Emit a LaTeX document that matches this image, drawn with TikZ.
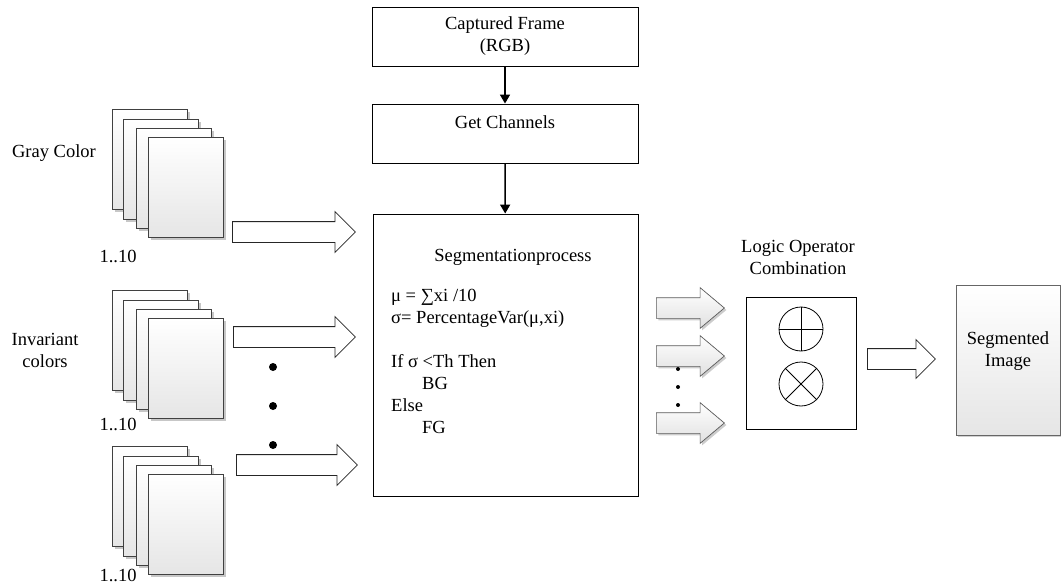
\documentclass[tikz,border=0pt]{standalone}
\usepackage{fontspec}
\setmainfont{Liberation Serif}
\usetikzlibrary{shapes.arrows,shadows,arrows.meta,positioning}
\newcommand{\pagestack}[2]{%
  \foreach \dx/\dy/\k in {0/0/1,11/10/2,24/19/3,36/28/4}
    \node[page] (#1-\k) at (112+\dx,#2+\dy) {};}

\begin{document}
\begin{tikzpicture}[x=1pt,y=-1pt,
  font=\fontsize{18.5}{22}\selectfont,
  box/.style={draw, line width=0.9pt, inner sep=0pt},
  page/.style={draw=black!75, line width=0.7pt, anchor=north west, minimum width=75pt, minimum height=100pt,
    top color=white, bottom color=black!10,
    drop shadow={fill=black!22, opacity=1, shadow xshift=2.5pt, shadow yshift=-2.5pt}},
  bigarrow/.style={single arrow, draw=black!85, line width=0.8pt, fill=white, anchor=tail,
    inner xsep=0pt, inner ysep=10pt, minimum height=#1, single arrow head extend=10pt},
  outarrow/.style={bigarrow=68pt, single arrow tip angle=80, draw=black!65, line width=0.7pt,
    top color=white, bottom color=black!12,
    drop shadow={fill=black!20, opacity=1, shadow xshift=2pt, shadow yshift=-2pt}},
  op/.style={circle, draw, line width=0.8pt, minimum size=44pt, inner sep=0pt}]
  \useasboundingbox (0,0) rectangle (1061,583);

  % top of the pipeline
  \node[box, align=center, minimum width=266pt, minimum height=59pt] (capt) at (505,36.5) {Captured Frame\\(RGB)};
  \node[box, minimum width=266pt, minimum height=59pt] (get) at (505,133.5) {};
  \node (getlbl) at (505,122) {Get Channels};
  \node[box, minimum width=265pt, minimum height=282pt] (seg) at (505.5,355) {};
  \node (segtitle) at (513,257) {Segmentationprocess};
  \node[align=left, anchor=north west, inner sep=0pt] (segcode) at (391,289) {%
    μ = ∑xi /10\\
    σ= PercentageVar(μ,xi)\\
    ~\\
    If σ <Th Then\\
    \hspace*{31pt}BG\\
    Else\\
    \hspace*{31pt}FG};
  \path[-{Triangle[length=9pt,width=10pt]}, line width=1.6pt]
    (capt) edge (get)
    (get) edge (seg);

  % input frames
  \pagestack{gray}{109}
  \pagestack{inv}{290}
  \pagestack{more}{446}
  \node (graylbl) at (54,153) {Gray Color};
  \node[align=center] (invlbl) at (45,350) {Invariant\\colors};
  \node (graynum) at (118,256) {1..10};
  \node (invnum) at (118,424) {1..10};
  \node (morenum) at (118,575) {1..10};
  \node[bigarrow=123pt] (in1) at (232,232) {};
  \node[bigarrow=122pt] (in2) at (233,337) {};
  \node[bigarrow=121pt] (in3) at (236,465) {};
  \fill (273,367) circle (4pt) (273,406) circle (4pt) (273,445) circle (4pt);

  % combination
  \node[outarrow] (out1) at (656,308) {};
  \node[outarrow] (out2) at (656,356) {};
  \node[outarrow] (out3) at (656,423) {};
  \fill (678,369) circle (2pt) (678,387) circle (2pt) (678,405) circle (2pt);
  \node[align=center] (logiclbl) at (798,257) {Logic Operator\\Combination};
  \node[box, minimum width=110pt, minimum height=132pt] (logic) at (801,363) {};
  \node[op] (plus) at (801,329) {};
  \draw[line width=0.8pt] (plus.north) -- (plus.south) (plus.west) -- (plus.east);
  \node[op] (times) at (801,384) {};
  \draw[line width=0.8pt] (times.north west) -- (times.south east) (times.north east) -- (times.south west);

  % result
  \node[bigarrow=68pt, single arrow head extend=9pt] (res) at (867,359) {};
  \node[draw=black!60, line width=0.7pt, minimum width=104pt, minimum height=150pt, top color=white, bottom color=black!10,
    drop shadow={fill=black!18, opacity=1, shadow xshift=2pt, shadow yshift=-2pt}] (img) at (1008,360) {};
  \node[align=center] (imglbl) at (1008,351) {Segmented\\Image};
\end{tikzpicture}
\end{document}
